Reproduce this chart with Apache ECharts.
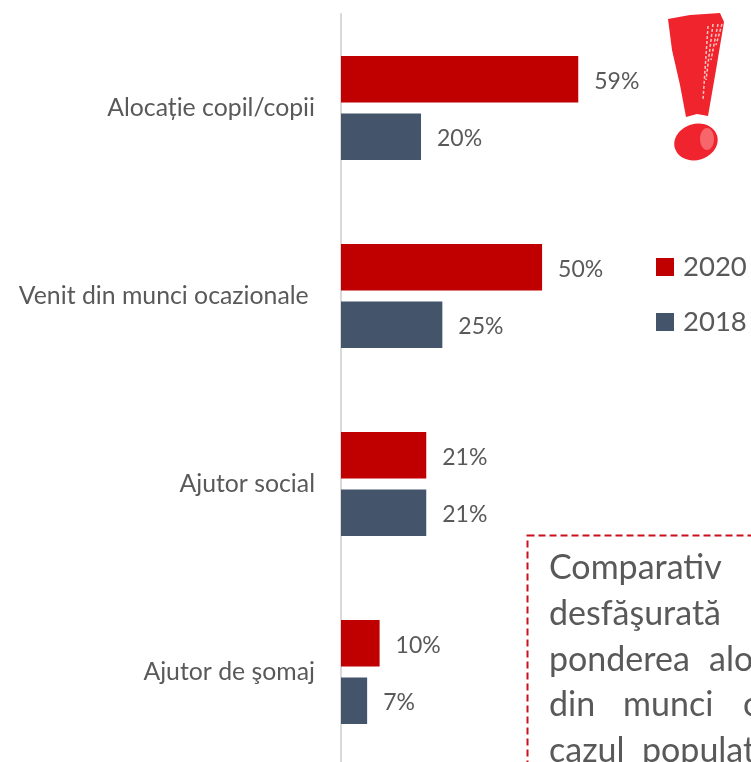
<!DOCTYPE html>
<html><head><meta charset="utf-8">
<style>html,body{margin:0;padding:0;background:#fff;overflow:hidden}#c{width:751px;height:762px}</style>
<script src="https://cdn.jsdelivr.net/npm/echarts@6/dist/echarts.min.js"></script>
</head><body><div id="c"></div>
<script>
const categories = ['Alocație copil/copii', 'Venit din munci ocazionale\u00a0', 'Ajutor social', 'Ajutor de şomaj'];
const values2020 = [59, 50, 21.2, 9.6];
const values2018 = [19.9, 25.2, 21.2, 6.5];
const noteLines = [
  [['Comparativ', 549], ['cu', 760]],
  [['desfăşurată', 549], ['în', 760]],
  [['ponderea', 549], ['alocației', 709]],
  [['din', 549], ['munci', 623], ['ocazionale', 743]],
  [['cazul', 549], ['populației', 642]]
];
const noteTop = [568, 614, 660, 705, 751];
const FONT = 'Lato';
const TXT = '#595959';
const chart = echarts.init(document.getElementById('c'), null, {renderer:'canvas'});
const noteText = [];
noteLines.forEach((ln, i) => ln.forEach(w => noteText.push({
  type:'text', x:w[1], y:noteTop[i], silent:true,
  style:{text:w[0], font:'34px '+FONT, fill:TXT, textVerticalAlign:'middle'}
})));
const barLabel = {show:true, position:'right', distance:16, offset:[0,2],
  formatter:p => Math.round(p.value) + '%', color:TXT, fontFamily:FONT, fontSize:23};
const streaks = [[708,26,703,100],[713,24,706,80],[718,24,711,60],[722,24,716,45]].map(s => ({
  type:'line', silent:true, shape:{x1:s[0],y1:s[1],x2:s[2],y2:s[3]},
  style:{stroke:'#FBC4C4', lineWidth:1.5, lineDash:[3,2]}
}));
chart.setOption({
  animation:false,
  backgroundColor:'#fff',
  grid:{left:341, top:14, width:300, height:752, outerBoundsMode:'none'},
  legend:{
    orient:'vertical', left:651, top:248, itemGap:27, itemWidth:18, itemHeight:18,
    icon:'rect', data:['2020','2018'],
    textStyle:{color:TXT, fontFamily:FONT, fontSize:27.5, lineHeight:18, padding:[0,0,0,4]}
  },
  xAxis:{type:'value', min:0, max:74.6, show:false},
  yAxis:{
    type:'category', inverse:true, data:categories,
    axisLine:{show:true, lineStyle:{color:'#D9D9D9', width:2}},
    axisTick:{show:false},
    axisLabel:{color:TXT, fontFamily:FONT, fontSize:24.8, margin:26, padding:[4,0,0,0]}
  },
  series:[
    {name:'2020', type:'bar', data:values2020, barWidth:46.5, barGap:'24%', itemStyle:{color:'#C00000'}, label:barLabel},
    {name:'2018', type:'bar', data:values2018, barWidth:46.5, itemStyle:{color:'#44546A'}, label:barLabel}
  ],
  graphic:[
    {type:'rect', shape:{x:527.5,y:535.5,width:300,height:300}, silent:true,
     style:{fill:'none', stroke:'#C9101C', lineWidth:2, lineDash:[7,4]}},
    ...noteText,
    {type:'polygon', silent:true, shape:{points:[[668,19],[690,15],[720,13],[724,22],[716,70],[708,116],[697,114],[686,117],[680,85],[672,50]]}, style:{fill:'#F0242C'}},
    ...streaks,
    {type:'ellipse', silent:true, shape:{cx:696,cy:142,rx:22,ry:18}, rotation:0.3, originX:696, originY:142, style:{fill:'#F0242E'}},
    {type:'ellipse', silent:true, shape:{cx:707,cy:139,rx:7,ry:11}, style:{fill:'#F6666A'}}
  ]
});
</script></body></html>
